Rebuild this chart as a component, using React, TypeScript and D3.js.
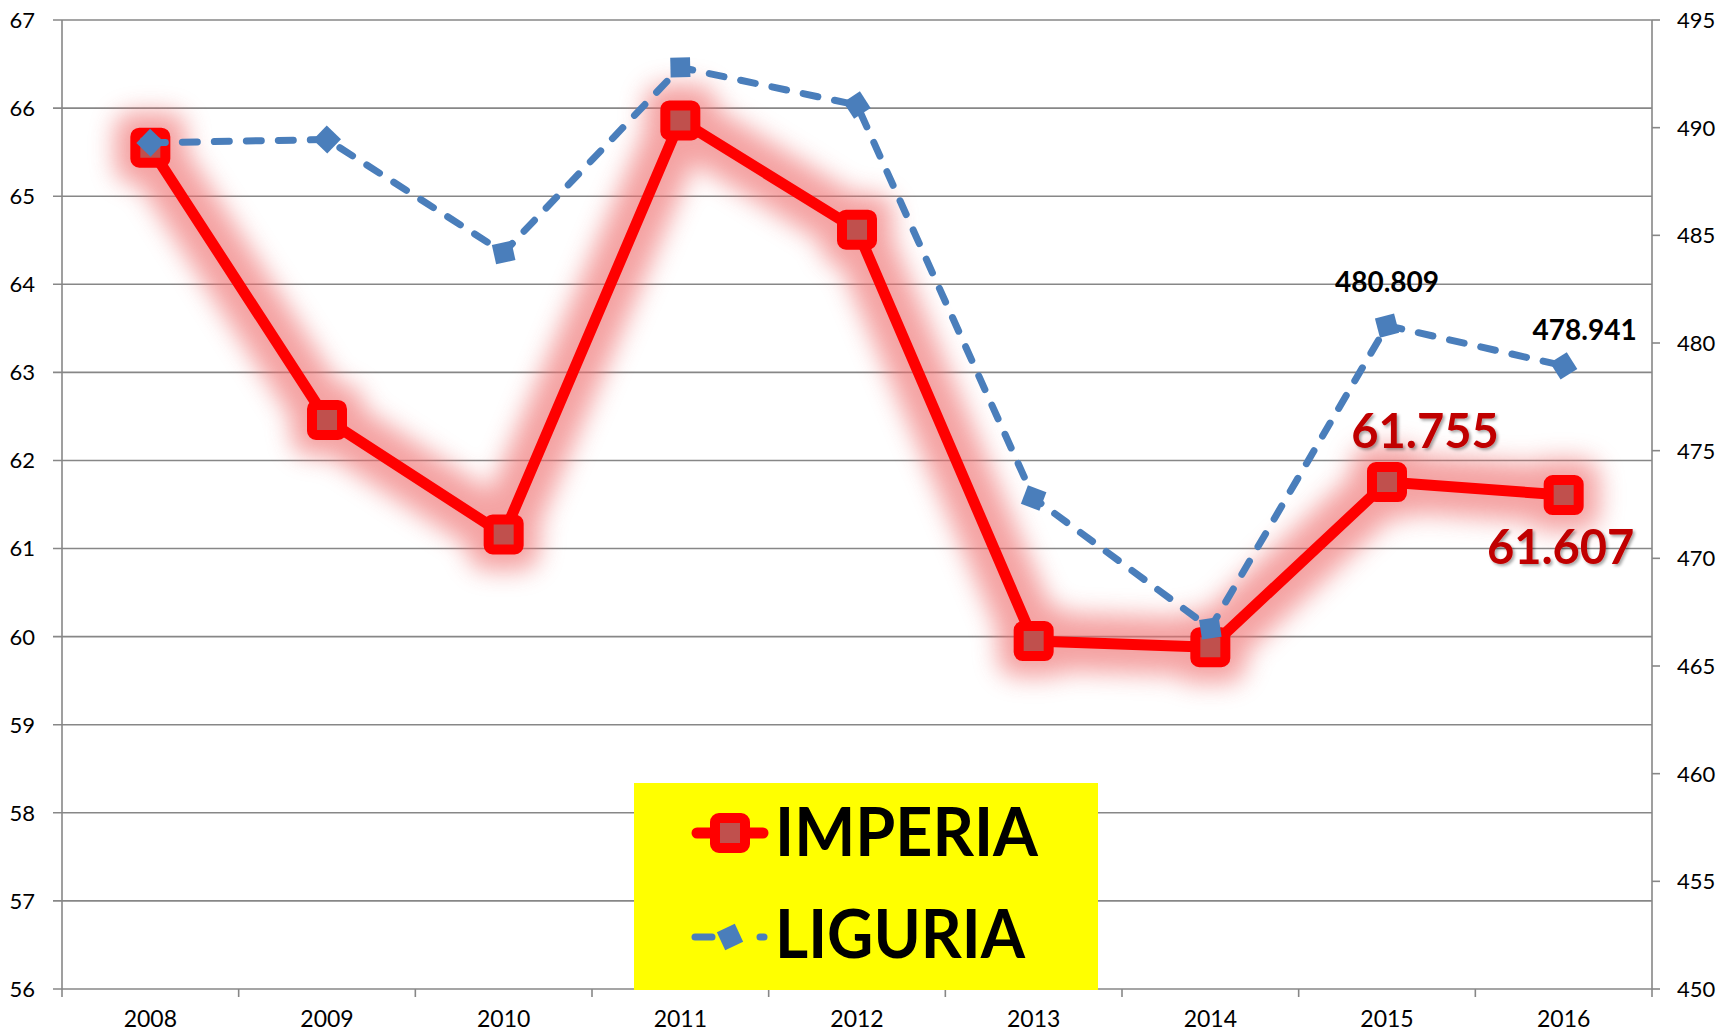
import { scaleBand, scaleLinear, line, range } from 'd3'

// anni sull'asse X
const years = ['2008', '2009', '2010', '2011', '2012', '2013', '2014', '2015', '2016']
// IMPERIA (asse sinistro)
const imperia = [65.55, 62.46, 61.16, 65.86, 64.62, 59.95, 59.88, 61.755, 61.607]
// LIGURIA (asse destro)
const liguria = [489.3, 489.45, 484.2, 492.8, 491.05, 472.8, 466.75, 480.809, 478.941]
const leftTicks = range(56, 68, 1)
const rightTicks = range(450, 500, 5)

const W = 1734
const H = 1035
const left = 62
const right = 1652
const top = 20
const bottom = 989
const font = 'Lato, "Open Sans", sans-serif'
const grid = '#878787'
const blue = '#4a7ebb'

const x = scaleBand<string>().domain(years).range([left, right])
const yL = scaleLinear().domain([56, 67]).range([bottom, top])
const yR = scaleLinear().domain([450, 495]).range([bottom, top])
const cx = (i: number) => x(years[i])! + x.bandwidth() / 2

const redLine = line<number>().x((_, i) => cx(i)).y((d) => yL(d))
const blueLine = line<number>().x((_, i) => cx(i)).y((d) => yR(d))

function Diamond({ px, py, angle }: { px: number; py: number; angle: number }) {
  return (
    <path
      d="M0,-14 L14,0 L0,14 L-14,0Z"
      transform={`translate(${px},${py}) rotate(${angle})`}
      fill={blue}
    />
  )
}

function RedMarker({ px, py }: { px: number; py: number }) {
  return (
    <rect x={px - 15} y={py - 15} width={30} height={30} rx={4} fill="#c0504d" stroke="#ff0000" strokeWidth={10} />
  )
}

export default function App() {
  const angleAt = (i: number) => {
    const a = i > 0 ? i - 1 : i
    const b = i > 0 ? i : i + 1
    const dx = cx(b) - cx(a)
    const dy = yR(liguria[b]) - yR(liguria[a])
    return (Math.atan2(dy, dx) * 180) / Math.PI
  }

  return (
    <svg
      width={W}
      height={H}
      style={{ position: 'absolute', left: 0, top: 0, background: '#fff' }}
      fontFamily={font}
    >
      <defs>
        <filter id="glow" x="-20%" y="-20%" width="140%" height="140%">
          <feGaussianBlur stdDeviation="12" />
        </filter>
        <filter id="tshadow" x="-10%" y="-10%" width="130%" height="140%">
          <feDropShadow dx="2" dy="2" stdDeviation="1.5" floodColor="#000" floodOpacity="0.35" />
        </filter>
      </defs>

      {/* gridlines */}
      {leftTicks.map((t) => (
        <line key={t} x1={left - 9} x2={right} y1={yL(t)} y2={yL(t)} stroke={grid} strokeWidth={1.6} />
      ))}
      {/* axes */}
      <line x1={left} x2={left} y1={top} y2={bottom + 8} stroke={grid} strokeWidth={1.6} />
      <line x1={right} x2={right} y1={top} y2={bottom + 8} stroke={grid} strokeWidth={1.6} />
      {rightTicks.map((t) => (
        <line key={t} x1={right} x2={right + 8} y1={yR(t)} y2={yR(t)} stroke={grid} strokeWidth={1.6} />
      ))}
      {years.map((y, i) =>
        i === 0 ? null : (
          <line key={y} x1={x(y)} x2={x(y)} y1={bottom} y2={bottom + 8} stroke={grid} strokeWidth={1.6} />
        )
      )}

      {/* tick labels */}
      {leftTicks.map((t) => (
        <text key={t} x={35} y={yL(t)} dy="0.36em" textAnchor="end" fontSize={22} fill="#000">
          {t}
        </text>
      ))}
      {rightTicks.map((t) => (
        <text key={t} x={1677} y={yR(t)} dy="0.36em" textAnchor="start" fontSize={22} fill="#000">
          {t}
        </text>
      ))}
      {years.map((y, i) => (
        <text key={y} x={cx(i)} y={1027} textAnchor="middle" fontSize={23} fill="#000">
          {y}
        </text>
      ))}

      {/* IMPERIA glow */}
      <g filter="url(#glow)" opacity={0.62}>
        <path d={redLine(imperia)!} fill="none" stroke="#ee6b6b" strokeWidth={58} strokeLinejoin="round" strokeLinecap="round" />
        {imperia.map((v, i) => (
          <rect key={i} x={cx(i) - 36} y={yL(v) - 36} width={72} height={72} rx={20} fill="#ee6b6b" />
        ))}
      </g>
      <path d={redLine(imperia)!} fill="none" stroke="#ff0000" strokeWidth={11} strokeLinejoin="round" />
      {imperia.map((v, i) => (
        <RedMarker key={i} px={cx(i)} py={yL(v)} />
      ))}

      {/* LIGURIA */}
      <path
        d={blueLine(liguria)!}
        fill="none"
        stroke={blue}
        strokeWidth={7}
        strokeDasharray="15 17"
        strokeLinecap="round"
        strokeLinejoin="round"
      />
      {liguria.map((v, i) => (
        <Diamond key={i} px={cx(i)} py={yR(v)} angle={angleAt(i)} />
      ))}

      {/* data labels */}
      <text x={cx(7)} y={292} textAnchor="middle" fontSize={28} fontWeight="bold" fill="#000">
        {liguria[7].toFixed(3)}
      </text>
      <text x={cx(8) + 21} y={340} textAnchor="middle" fontSize={28} fontWeight="bold" fill="#000">
        {liguria[8].toFixed(3)}
      </text>
      <text x={cx(7) + 38} y={448} textAnchor="middle" fontSize={47} fontWeight="bold" fill="#c00000" filter="url(#tshadow)">
        {imperia[7].toFixed(3)}
      </text>
      <text x={cx(8) - 3} y={564} textAnchor="middle" fontSize={47} fontWeight="bold" fill="#c00000" filter="url(#tshadow)">
        {imperia[8].toFixed(3)}
      </text>

      {/* legend */}
      <rect x={634} y={783} width={464} height={207} fill="#ffff00" />
      <line x1={697} x2={763} y1={833} y2={833} stroke="#ff0000" strokeWidth={11} strokeLinecap="round" />
      <RedMarker px={730} py={833} />
      <text x={775} y={856} fontSize={66} fontWeight="bold" fill="#000" textLength={263} lengthAdjust="spacingAndGlyphs">
        IMPERIA
      </text>
      <line x1={695} x2={712} y1={937} y2={937} stroke={blue} strokeWidth={7} strokeLinecap="round" />
      <line x1={760} x2={764} y1={937} y2={937} stroke={blue} strokeWidth={7} strokeLinecap="round" />
      <Diamond px={730} py={937} angle={20} />
      <text x={775} y={958} fontSize={66} fontWeight="bold" fill="#000" textLength={250} lengthAdjust="spacingAndGlyphs">
        LIGURIA
      </text>
    </svg>
  )
}
